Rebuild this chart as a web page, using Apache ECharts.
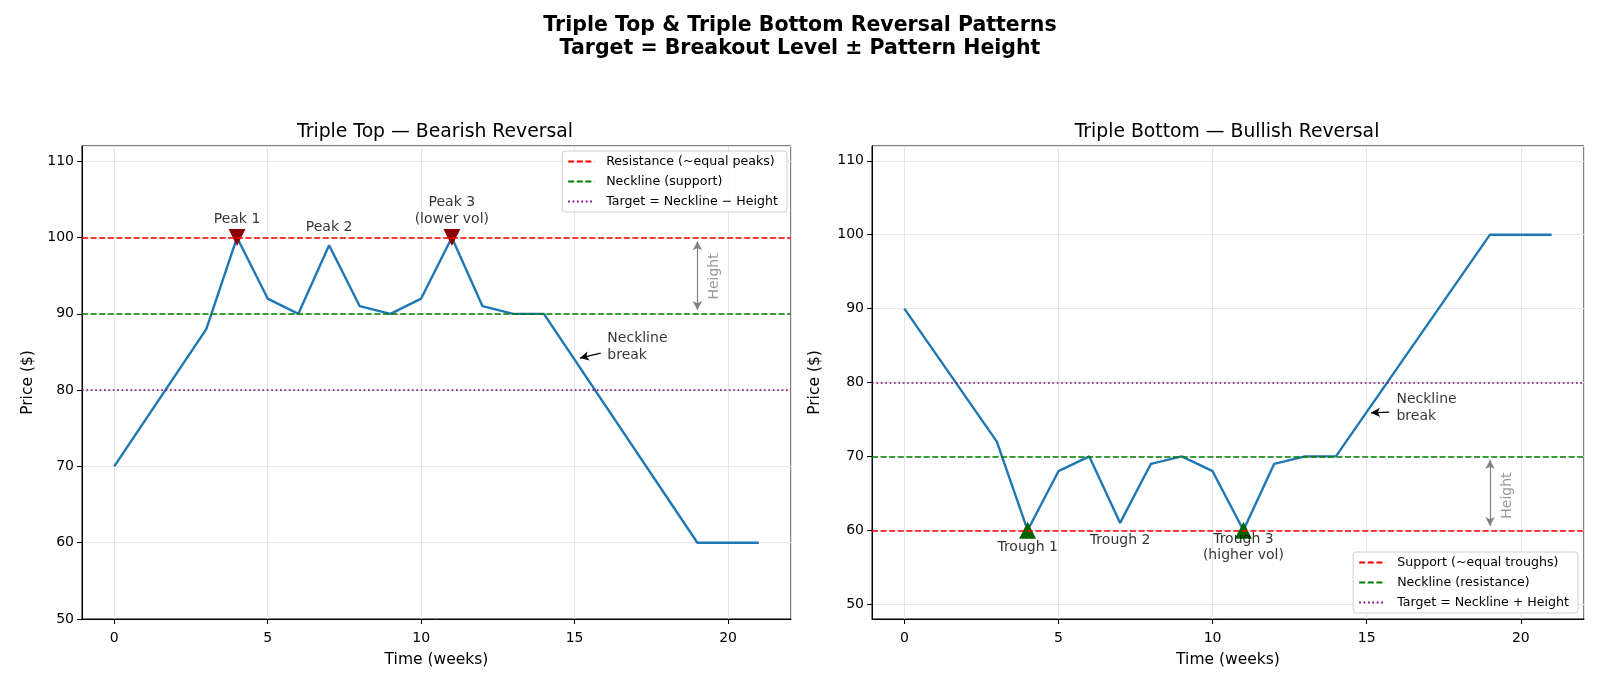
<!DOCTYPE html>
<html>
<head>
<meta charset="utf-8">
</head>
<body style="margin: 0">
<div id="container" style="width: 1600px; height: 686px"></div>
<script src="https://cdn.jsdelivr.net/npm/echarts@6/dist/echarts.min.js"></script>
<script>
// price path: turning points only (weeks, price)
var topWeeks = [0, 3, 4, 5, 6, 7, 8, 9, 10, 11, 12, 13, 14, 19, 20, 21];
var topPrices = [70, 88, 100, 92, 90, 99, 91, 90, 92, 100, 91, 90, 90, 60, 60, 60];
var bottomWeeks = [0, 3, 4, 5, 6, 7, 8, 9, 10, 11, 12, 13, 14, 19, 20, 21];
var bottomPrices = [90, 72, 60, 68, 70, 61, 69, 70, 68, 60, 69, 70, 70, 100, 100, 100];

// horizontal levels
var topLevelNames = ['Resistance (~equal peaks)', 'Neckline (support)', 'Target = Neckline \u2212 Height'];
var topLevelValues = [100, 90, 80];
var bottomLevelNames = ['Support (~equal troughs)', 'Neckline (resistance)', 'Target = Neckline + Height'];
var bottomLevelValues = [60, 70, 80];

// marked peaks / troughs
var peakWeeks = [4, 11];
var peakPrices = [100, 100];
var troughWeeks = [4, 11];
var troughPrices = [60, 60];

// text notes [week, price, text]
var peakNotes = [[4, 101.3, 'Peak 1'], [7, 100.2, 'Peak 2'], [11, 101.3, 'Peak 3\n(lower vol)']];
var troughNotes = [[4, 58.9, 'Trough 1'], [7, 59.8, 'Trough 2'], [11, 60.0, 'Trough 3\n(higher vol)']];
var topBreakNote = [[16.05, 85.7, 'Neckline\nbreak']];
var bottomBreakNote = [[15.95, 76.6, 'Neckline\nbreak']];
var topHeightNote = [[19.55, 94.9, 'Height']];
var bottomHeightNote = [[19.55, 64.7, 'Height']];

// arrows [x0, y0, x1, y1]
var topBreakArrow = [[15.85, 84.85, 15.17, 84.2]];
var bottomBreakArrow = [[15.73, 76.0, 15.14, 75.9]];
var topHeightArrow = [[19, 99.5, 19, 90.5]];
var bottomHeightArrow = [[19, 69.5, 19, 60.6]];

var FONT = 'DejaVu Sans';
var levelColors = ['#ff0000', '#008000', '#800080'];
var levelDash = [[6, 2.6], [6, 2.6], [1.7, 2.7]];

var chart = echarts.init(document.getElementById('container'));

function pairs(xs, ys) {
    return xs.map(function (x, i) { return [x, ys[i]]; });
}

function levelSeries(idx, names, values) {
    return names.map(function (name, i) {
        var style = {color: levelColors[i], type: levelDash[i], width: 1.7};
        return {
            name: name, type: 'line', xAxisIndex: idx, yAxisIndex: idx,
            data: [], symbol: 'none', z: 2,
            lineStyle: style, itemStyle: {color: levelColors[i]},
            markLine: {
                silent: true, symbol: 'none', animation: false,
                label: {show: false}, lineStyle: style,
                data: [{yAxis: values[i]}]
            }
        };
    });
}

function noteSeries(idx, notes, position, extra) {
    var label = {
        show: true, position: position, distance: 0,
        formatter: function (p) { return p.data[2]; },
        color: '#000', fontSize: 14, fontFamily: FONT, lineHeight: 16.5
    };
    for (var k in extra) label[k] = extra[k];
    return {
        type: 'scatter', xAxisIndex: idx, yAxisIndex: idx, silent: true, z: 6,
        symbolSize: 1, itemStyle: {color: 'rgba(0,0,0,0)'},
        data: notes, label: label
    };
}

function arrowSeries(idx, segs, symbols, color) {
    return {
        type: 'line', xAxisIndex: idx, yAxisIndex: idx, data: [], z: 6,
        markLine: {
            silent: true, symbol: symbols, symbolSize: [7, 9], animation: false,
            label: {show: false},
            lineStyle: {color: color, type: 'solid', width: 1.2},
            data: segs.map(function (s) {
                return [{coord: [s[0], s[1]]}, {coord: [s[2], s[3]]}];
            })
        }
    };
}

function xAxisCfg(idx) {
    return {
        type: 'value', gridIndex: idx, min: -1.05, max: 22.05,
        name: 'Time (weeks)', nameLocation: 'middle', nameGap: 33,
        nameTextStyle: {color: '#000', fontSize: 15.5, fontFamily: FONT},
        axisLine: {show: true, onZero: false, lineStyle: {color: '#000'}},
        axisTick: {show: true, length: 5, lineStyle: {color: '#000'}},
        axisLabel: {color: '#000', fontSize: 14, fontFamily: FONT, margin: 12,
                    showMinLabel: false, showMaxLabel: false},
        splitLine: {show: true, lineStyle: {color: '#e6e6e6'}}
    };
}

function yAxisCfg(idx, min, max, gap) {
    return {
        type: 'value', gridIndex: idx, min: min, max: max,
        name: 'Price ($)', nameLocation: 'middle', nameGap: gap,
        nameTextStyle: {color: '#000', fontSize: 15.5, fontFamily: FONT},
        axisLine: {show: true, onZero: false, lineStyle: {color: '#000'}},
        axisTick: {show: true, length: 5, lineStyle: {color: '#000'}},
        axisLabel: {color: '#000', fontSize: 14, fontFamily: FONT, margin: 8,
                    showMinLabel: min % 10 === 0, showMaxLabel: false},
        splitLine: {show: true, lineStyle: {color: '#e6e6e6'}}
    };
}

function legendCfg(names, pos) {
    var cfg = {
        data: names, orient: 'vertical', align: 'left',
        itemWidth: 26, itemHeight: 14, itemGap: 7, padding: [4, 9, 4, 5],
        itemStyle: {opacity: 0},
        backgroundColor: 'rgba(255,255,255,0.85)', borderColor: '#d0d0d0',
        borderWidth: 1, borderRadius: 3,
        textStyle: {color: '#000', fontSize: 12.6, fontFamily: FONT, padding: [0, 0, 0, 7]}
    };
    for (var k in pos) cfg[k] = pos[k];
    return cfg;
}

var series = [];
series = series.concat(levelSeries(0, topLevelNames, topLevelValues));
series = series.concat(levelSeries(1, bottomLevelNames, bottomLevelValues));
series.push(
    {type: 'line', xAxisIndex: 0, yAxisIndex: 0, data: pairs(topWeeks, topPrices),
     symbol: 'none', z: 3, lineStyle: {color: '#1f77b4', width: 2.4}},
    {type: 'line', xAxisIndex: 1, yAxisIndex: 1, data: pairs(bottomWeeks, bottomPrices),
     symbol: 'none', z: 3, lineStyle: {color: '#1f77b4', width: 2.4}},
    {type: 'scatter', xAxisIndex: 0, yAxisIndex: 0, data: pairs(peakWeeks, peakPrices),
     symbol: 'triangle', symbolRotate: 180, symbolSize: 17, z: 4,
     itemStyle: {color: '#8b0000', opacity: 1}},
    {type: 'scatter', xAxisIndex: 1, yAxisIndex: 1, data: pairs(troughWeeks, troughPrices),
     symbol: 'triangle', symbolSize: 17, z: 4,
     itemStyle: {color: '#006400', opacity: 1}},
    noteSeries(0, peakNotes, 'top'),
    noteSeries(1, troughNotes, 'bottom'),
    noteSeries(0, topBreakNote, 'right'),
    noteSeries(1, bottomBreakNote, 'right'),
    noteSeries(0, topHeightNote, 'inside', {rotate: 90, color: '#808080'}),
    noteSeries(1, bottomHeightNote, 'inside', {rotate: 90, color: '#808080'}),
    arrowSeries(0, topBreakArrow, ['none', 'arrow'], '#000'),
    arrowSeries(1, bottomBreakArrow, ['none', 'arrow'], '#000'),
    arrowSeries(0, topHeightArrow, ['arrow', 'arrow'], '#808080'),
    arrowSeries(1, bottomHeightArrow, ['arrow', 'arrow'], '#808080')
);

var option = {
    animation: false,
    backgroundColor: '#fff',
    title: [
        {text: 'Triple Top & Triple Bottom Reversal Patterns\nTarget = Breakout Level \u00b1 Pattern Height',
         left: 'center', top: 9,
         textStyle: {color: '#000', fontSize: 20.5, fontWeight: 'bold', fontFamily: FONT, lineHeight: 23}},
        {text: 'Triple Top \u2014 Bearish Reversal', left: 430, top: 118, textAlign: 'center',
         textStyle: {color: '#000', fontSize: 18.8, fontWeight: 'normal', fontFamily: FONT}},
        {text: 'Triple Bottom \u2014 Bullish Reversal', left: 1222, top: 118, textAlign: 'center',
         textStyle: {color: '#000', fontSize: 18.8, fontWeight: 'normal', fontFamily: FONT}}
    ],
    legend: [
        legendCfg(topLevelNames, {right: 813, top: 151}),
        legendCfg(bottomLevelNames, {right: 22, top: 552})
    ],
    grid: [
        {left: 82, right: 809, top: 146, bottom: 67, show: true, borderColor: '#000', borderWidth: 1},
        {left: 872, right: 16, top: 146, bottom: 67, show: true, borderColor: '#000', borderWidth: 1}
    ],
    xAxis: [xAxisCfg(0), xAxisCfg(1)],
    yAxis: [yAxisCfg(0, 50, 112, 46), yAxisCfg(1, 48, 112, 49)],
    series: series
};

chart.setOption(option);
</script>
</body>
</html>
